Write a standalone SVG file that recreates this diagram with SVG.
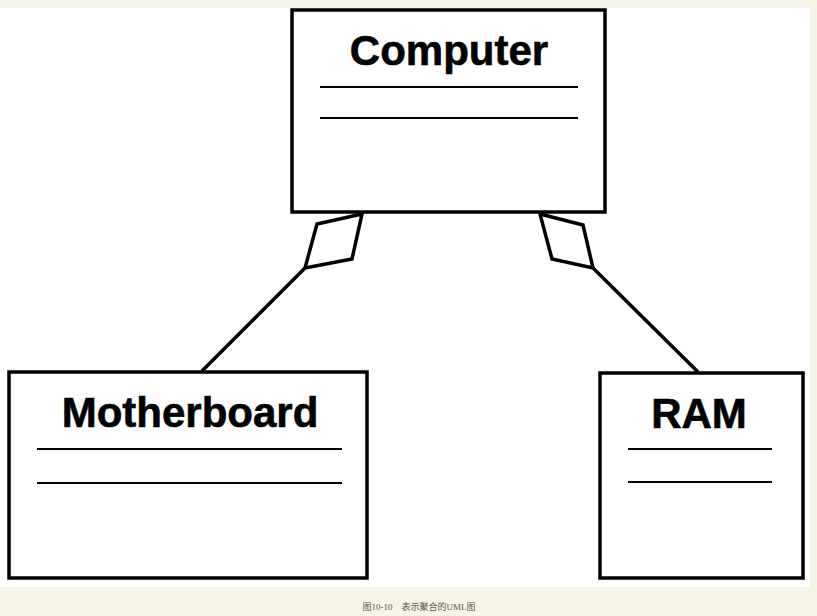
<svg xmlns="http://www.w3.org/2000/svg" width="817" height="616" viewBox="0 0 817 616">
<style>
.box{fill:#fff;stroke:#000;stroke-width:3.5}
.sep{stroke:#000;stroke-width:2}
.title{font-family:"Liberation Sans",Arial,sans-serif;font-weight:bold;font-size:42px;fill:#000;text-anchor:middle;stroke:#000;stroke-width:0.6}
.conn{fill:none;stroke:#000;stroke-width:3.5;stroke-linejoin:miter}
.cap{font-family:"Liberation Serif","Noto Sans CJK SC",serif;font-size:9px;fill:#555;text-anchor:middle}
</style>
<rect x="0" y="0" width="817" height="616" fill="#f6f3e7"/>
<rect x="0" y="8" width="810" height="579" fill="#fff"/>
<g id="computer">
<rect class="box" x="292" y="10" width="313" height="202"/>
<text class="title" x="449" y="65">Computer</text>
<line class="sep" x1="320" y1="87" x2="578" y2="87"/>
<line class="sep" x1="320" y1="118" x2="578" y2="118"/>
</g>
<g id="motherboard">
<rect class="box" x="9" y="372" width="358" height="206"/>
<text class="title" x="190" y="427">Motherboard</text>
<line class="sep" x1="37" y1="449" x2="342" y2="449"/>
<line class="sep" x1="37" y1="483" x2="342" y2="483"/>
</g>
<g id="ram">
<rect class="box" x="600" y="373" width="203" height="205"/>
<text class="title" x="699" y="428">RAM</text>
<line class="sep" x1="628" y1="449" x2="772" y2="449"/>
<line class="sep" x1="628" y1="482" x2="772" y2="482"/>
</g>
<g id="connectors">
<polygon class="conn" fill="#fff" points="362,214 317,224 305,268 352,259"/>
<line class="conn" x1="305" y1="268" x2="202" y2="371"/>
<polygon class="conn" fill="#fff" points="540,214 583,225 593,268 552,259"/>
<line class="conn" x1="593" y1="268" x2="698" y2="372"/>
</g>
<text class="cap" x="419" y="610">图10-10　表示聚合的UML图</text>
</svg>
